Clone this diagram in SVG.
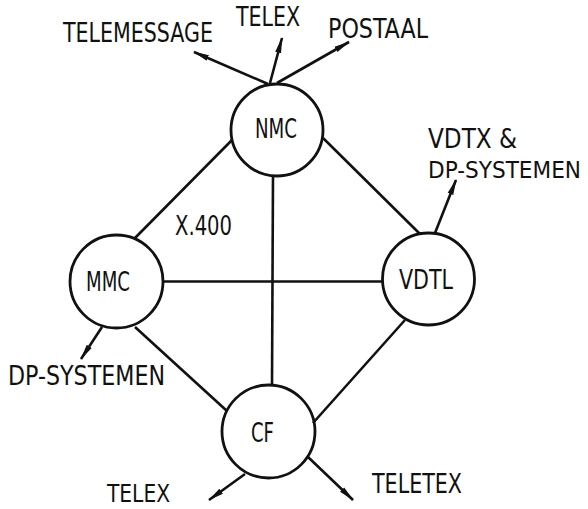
<svg xmlns="http://www.w3.org/2000/svg" width="588" height="509" viewBox="0 0 588 509">
<style>
.n{fill:none;stroke:#111;stroke-width:2.8}
.c{stroke:#111;stroke-width:2.6;fill:none}
.a{stroke:#111;stroke-width:2.6;fill:none;marker-end:url(#ah)}
text{font-family:"DejaVu Sans Condensed","DejaVu Sans","Liberation Sans",sans-serif;font-size:26px;fill:#111}
</style>
<defs>
<marker id="ah" markerUnits="userSpaceOnUse" viewBox="0 0 16 8" refX="15" refY="4" markerWidth="16" markerHeight="8" orient="auto">
<path d="M0,1 L16,4 L0,7 Z" fill="#111"/>
</marker>
</defs>
<rect width="588" height="509" fill="#fff"/>
<g id="connectors">
<line class="c" x1="232" y1="140" x2="135" y2="238"/>
<line class="c" x1="323" y1="138" x2="420" y2="234"/>
<line class="c" x1="163" y1="281.5" x2="383" y2="281.5"/>
<line class="c" x1="273" y1="176" x2="272" y2="385"/>
<line class="c" x1="135" y1="327" x2="227" y2="411"/>
<line class="c" x1="405" y1="320" x2="313" y2="423"/>
<line class="a" x1="268" y1="84" x2="194" y2="52"/>
<line class="a" x1="270" y1="83" x2="282" y2="38"/>
<line class="a" x1="277" y1="83" x2="349" y2="42"/>
<line class="a" x1="435" y1="233" x2="456" y2="180"/>
<line class="a" x1="102" y1="327" x2="81" y2="359"/>
<line class="a" x1="245" y1="474" x2="209" y2="500"/>
<line class="a" x1="308" y1="457" x2="353" y2="500"/>
</g>
<g id="NMC"><circle class="n" cx="277" cy="130" r="46"/><text x="255" y="138" textLength="42" lengthAdjust="spacingAndGlyphs">NMC</text></g>
<g id="MMC"><circle class="n" cx="116.5" cy="281.5" r="46.5"/><text x="86" y="291" textLength="44" lengthAdjust="spacingAndGlyphs">MMC</text></g>
<g id="VDTL"><circle class="n" cx="428.5" cy="279" r="46"/><text x="399" y="289" textLength="54" lengthAdjust="spacingAndGlyphs">VDTL</text></g>
<g id="CF"><circle class="n" cx="268.5" cy="431.5" r="46.5"/><text x="251" y="442" textLength="23" lengthAdjust="spacingAndGlyphs">CF</text></g>
<g id="labels">
<text x="63" y="42" textLength="150" lengthAdjust="spacingAndGlyphs">TELEMESSAGE</text>
<text x="236" y="26" textLength="64" lengthAdjust="spacingAndGlyphs">TELEX</text>
<text x="328" y="38" textLength="100" lengthAdjust="spacingAndGlyphs">POSTAAL</text>
<text x="428" y="148" textLength="89" lengthAdjust="spacingAndGlyphs">VDTX &amp;</text>
<text x="428" y="178" textLength="153" lengthAdjust="spacingAndGlyphs" style="font-size:23px">DP-SYSTEMEN</text>
<text x="175" y="235" textLength="57" lengthAdjust="spacingAndGlyphs">X.400</text>
<text x="8" y="385" textLength="157" lengthAdjust="spacingAndGlyphs">DP-SYSTEMEN</text>
<text x="107" y="502" textLength="63" lengthAdjust="spacingAndGlyphs" style="font-size:24px">TELEX</text>
<text x="372" y="493" textLength="90" lengthAdjust="spacingAndGlyphs">TELETEX</text>
</g>
</svg>
